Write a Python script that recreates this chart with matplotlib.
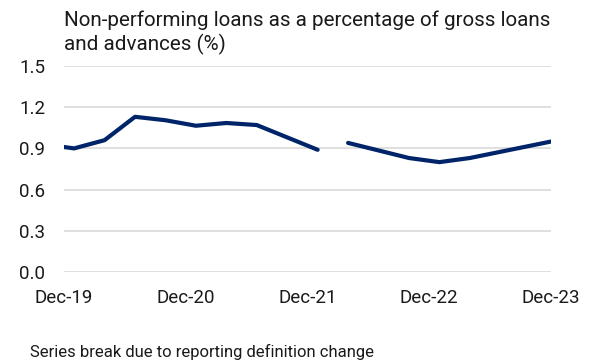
import matplotlib
matplotlib.use("Agg")
import matplotlib.pyplot as plt

plt.rcParams['font.family'] = ['Roboto', 'DejaVu Sans']

# Month offsets from Dec-19
seg1_months = [0, 1, 4, 7, 10, 13, 16, 19, 22, 25]
seg1_values = [0.91, 0.90, 0.96, 1.13, 1.105, 1.065, 1.085, 1.07, 0.98, 0.89]
seg2_months = [28, 31, 34, 37, 40, 43, 46, 48]
seg2_values = [0.94, 0.885, 0.83, 0.80, 0.83, 0.875, 0.92, 0.95]

tick_pos = [0, 12, 24, 36, 48]
tick_labels = ["Dec-19", "Dec-20", "Dec-21", "Dec-22", "Dec-23"]
y_ticks = [0.0, 0.3, 0.6, 0.9, 1.2, 1.5]

title = "Non-performing loans as a percentage of gross loans\nand advances (%)"
footnote = "Series break due to reporting definition change"

W, H = 591, 363
fig = plt.figure(figsize=(W / 100, H / 100), dpi=100)
ax = fig.add_axes([64 / W, 1 - 272 / H, (551 - 64) / W, (272 - 66) / H])

color = '#002469'
ax.plot(seg1_months, seg1_values, color=color, lw=3.0, solid_capstyle='round', solid_joinstyle='round', zorder=3)
ax.plot(seg2_months, seg2_values, color=color, lw=3.0, solid_capstyle='round', solid_joinstyle='round', zorder=3)

ax.set_xlim(0, 48)
ax.set_ylim(0, 1.5)
ax.set_yticks(y_ticks)
ax.set_yticklabels([f"{v:.1f}" for v in y_ticks])
ax.set_xticks(tick_pos)
ax.set_xticklabels(tick_labels)
ax.tick_params(axis='both', length=0, labelsize=13.5, colors='#1a1a1a')
ax.tick_params(axis='y', pad=13.5)
ax.tick_params(axis='x', pad=12)
ax.grid(axis='y', color='#d9d9d9', lw=1.2, zorder=0)
ax.set_axisbelow(True)
for s in ax.spines.values():
    s.set_visible(False)

fig.text(64 / W, 1 - 10 / H, title, ha='left', va='top', fontsize=14.9, color='#1a1a1a', linespacing=1.25)
fig.text(30 / W, 1 - 352 / H, footnote, ha='left', va='center', fontsize=12, color='#1a1a1a')

fig.savefig("out.png", dpi=100)
